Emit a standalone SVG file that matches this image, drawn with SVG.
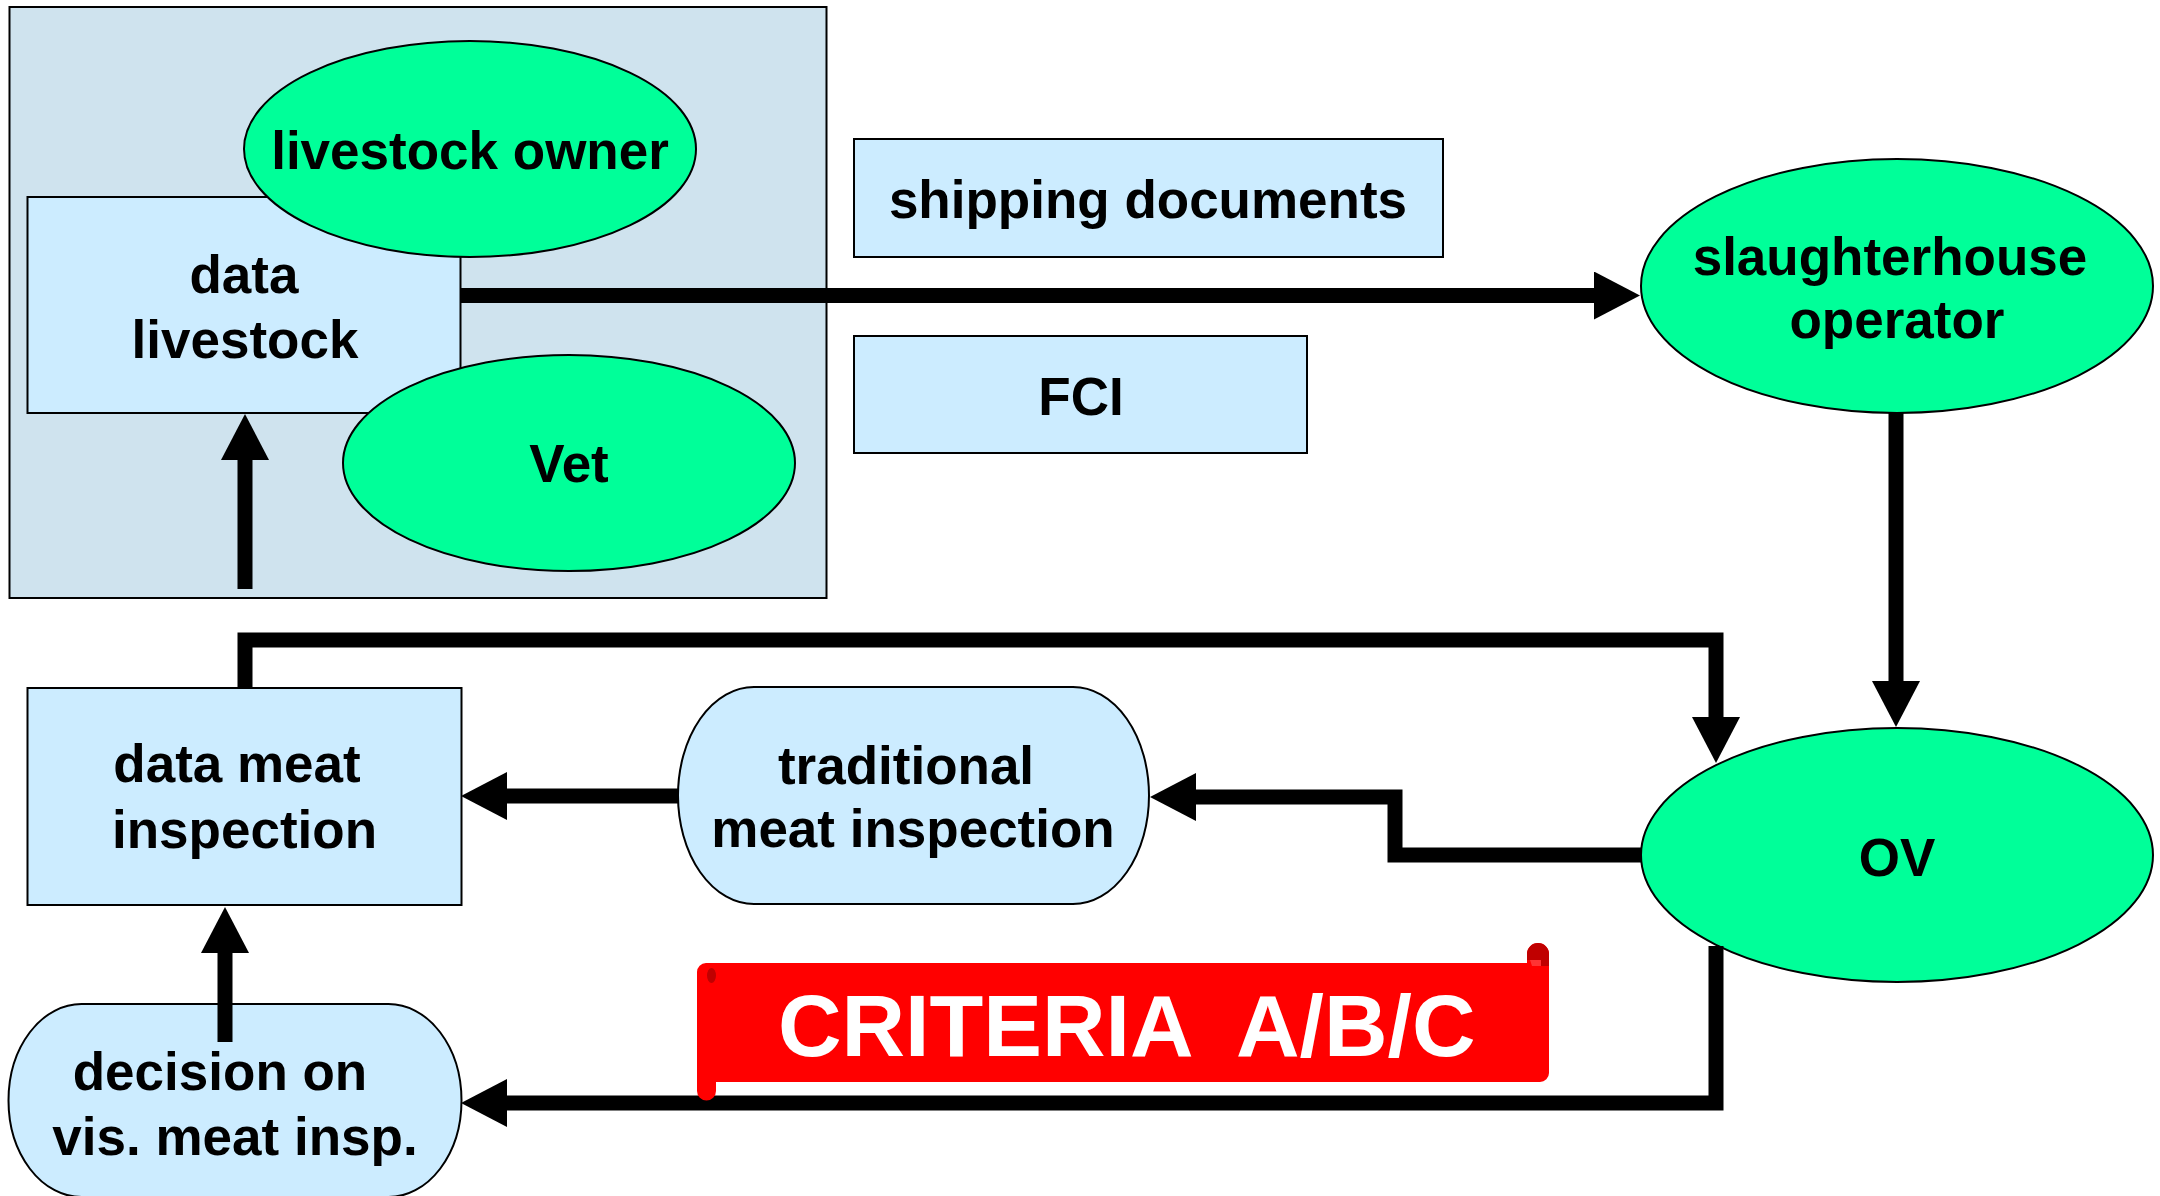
<svg xmlns="http://www.w3.org/2000/svg" width="2160" height="1196" viewBox="0 0 2160 1196">
  <defs>
    <style>
      .box { fill: #CCECFF; stroke: #000; stroke-width: 2; }
      .actor { fill: #00FF99; stroke: #000; stroke-width: 2; }
      .frame { fill: #CFE3EE; stroke: #000; stroke-width: 2; }
      .lbl { font-family: "Liberation Sans", Arial, sans-serif; font-weight: bold; font-size: 53px; fill: #000; text-anchor: middle; }
      .flow { fill: none; stroke: #000; stroke-width: 15; stroke-linejoin: miter; stroke-linecap: butt; marker-end: url(#head); }
      .banner-text { font-family: "Liberation Sans", Arial, sans-serif; font-weight: bold; font-size: 88px; fill: #FFF; }
    </style>
    <marker id="head" markerUnits="userSpaceOnUse" viewBox="0 0 46 48" refX="0" refY="24" markerWidth="46" markerHeight="48" orient="auto">
      <path d="M0,0 L46,24 L0,48 Z" fill="#000"/>
    </marker>
  </defs>

  <rect width="2160" height="1196" fill="#FFF"/>

  <!-- farm side frame -->
  <g id="farm">
    <rect class="frame" x="9.5" y="7" width="817" height="591"/>
  </g>

  <g id="data-livestock">
    <rect class="box" x="27.5" y="197" width="433" height="216"/>
    <text class="lbl" x="244" y="293">data</text>
    <text class="lbl" x="245" y="358">livestock</text>
  </g>

  <g id="livestock-owner">
    <ellipse class="actor" cx="470" cy="149" rx="226" ry="108"/>
    <text class="lbl" x="470" y="169">livestock owner</text>
  </g>

  <g id="vet">
    <ellipse class="actor" cx="569" cy="463" rx="226" ry="108"/>
    <text class="lbl" x="569" y="482">Vet</text>
  </g>

  <g id="shipping-documents">
    <rect class="box" x="854" y="139" width="589" height="118"/>
    <text class="lbl" x="1148" y="218">shipping documents</text>
  </g>

  <g id="fci">
    <rect class="box" x="854" y="336" width="453" height="117"/>
    <text class="lbl" x="1081" y="415">FCI</text>
  </g>

  <g id="slaughterhouse-operator">
    <ellipse class="actor" cx="1897" cy="286" rx="256" ry="127"/>
    <text class="lbl" x="1890" y="275">slaughterhouse</text>
    <text class="lbl" x="1897" y="338">operator</text>
  </g>

  <g id="ov">
    <ellipse class="actor" cx="1897" cy="855" rx="256" ry="127"/>
    <text class="lbl" x="1897" y="876">OV</text>
  </g>

  <g id="data-meat-inspection">
    <rect class="box" x="27.5" y="688" width="434" height="217"/>
    <text class="lbl" x="237" y="782">data meat</text>
    <text class="lbl" x="244.5" y="848">inspection</text>
  </g>

  <g id="traditional-meat-inspection">
    <path class="box" d="M754,687 H1073 A76,108.5 0 0 1 1073,904 H754 A76,108.5 0 0 1 754,687 Z"/>
    <text class="lbl" x="906" y="784">traditional</text>
    <text class="lbl" x="913" y="847">meat inspection</text>
  </g>

  <g id="decision-visual-inspection">
    <path class="box" d="M81.5,1004 H388.5 A73,96.5 0 0 1 388.5,1197 H81.5 A73,96.5 0 0 1 81.5,1004 Z"/>
    <text class="lbl" x="220" y="1090">decision on</text>
    <text class="lbl" x="235" y="1155">vis. meat insp.</text>
  </g>

  <!-- connectors -->
  <g id="connectors">
    <path class="flow" d="M245,589 L245,460"/>
    <path class="flow" d="M460,295.5 L1594,295.5"/>
    <path class="flow" d="M1896,413 L1896,681"/>
    <path class="flow" d="M245,688 L245,640 L1716,640 L1716,717"/>
    <path class="flow" d="M1642,855 L1395,855 L1395,797 L1196,797"/>
    <path class="flow" d="M678,796 L507,796"/>
    <path class="flow" d="M1716,946 L1716,1103 L507,1103"/>
    <path class="flow" d="M225,1042 L225,953"/>
  </g>

  <!-- scroll banner -->
  <g id="criteria-banner">
    <path d="M1527,963 L1527,954 A11,11 0 0 1 1549,954 L1549,1073 A9,9 0 0 1 1540,1082 L716,1082 L716,1091 A9.5,9.5 0 0 1 697,1091 L697,972 A9,9 0 0 1 706,963 Z" fill="#FF0000"/>
    <path d="M1527,960 L1527,954 A11,11 0 0 1 1549,954 L1549,966 L1541,966 L1541,960 Z" fill="#C00000"/>
    <path d="M1530,960 L1541,960 L1541,966 L1532,966 Z" fill="#FF3333"/>
    <ellipse cx="711.5" cy="975.5" rx="4.5" ry="7.5" fill="#C00000"/>
    <text class="banner-text" x="778" y="1056" xml:space="preserve">CRITERIA  A/B/C</text>
  </g>
</svg>
